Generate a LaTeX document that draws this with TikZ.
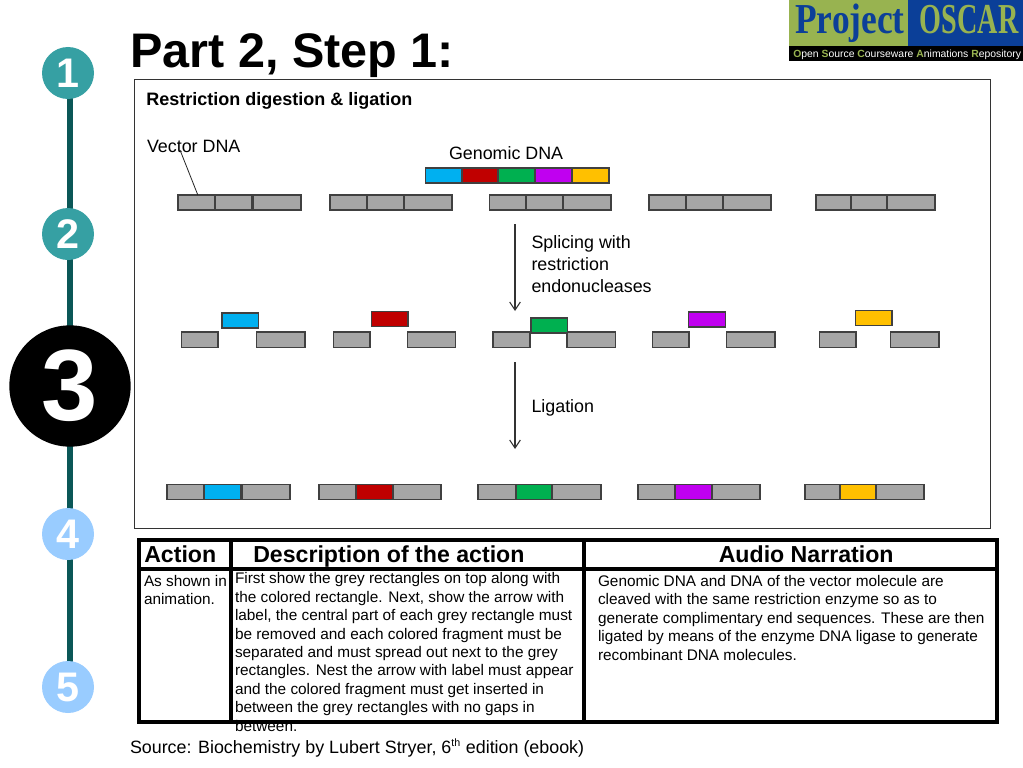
\documentclass[tikz,border=0pt]{standalone}
\usepackage{fontspec}
\setmainfont{Liberation Sans}
\newfontfamily\serifb{Liberation Serif}
\definecolor{teal1}{HTML}{36A0A3}
\definecolor{sky1}{HTML}{99CCFF}
\definecolor{stem}{HTML}{0B5757}
\definecolor{gseg}{HTML}{A6A6A6}
\definecolor{c1}{HTML}{00B0F0}
\definecolor{c2}{HTML}{C00000}
\definecolor{c3}{HTML}{00B050}
\definecolor{c4}{HTML}{C000F0}
\definecolor{c5}{HTML}{FFC000}
\definecolor{lgreen}{HTML}{98B350}
\definecolor{lblue}{HTML}{0B3F98}
\newcommand\fs[2]{\fontsize{#1}{#2}\selectfont}
\newcommand\blk[6]{\pgfmathsetmacro\wv{(#4-#2)*.75}\pgfmathsetmacro\hv{(#5-#3)*.75}%
  \node[seg,fill=#6,minimum width=\wv pt,minimum height=\hv pt] (#1) at (#2,#3) {};}
\tikzset{
  x=.75pt,y=-.75pt,
  seg/.style={draw=black!75,line width=.9pt,anchor=north west,inner sep=0pt,outer sep=0pt},
  txt/.style={anchor=north west,inner sep=0pt,outer sep=0pt,align=left,font=\fs{13.4}{16.4}},
  small/.style={anchor=north west,inner sep=0pt,outer sep=0pt,align=left,font=\fs{11.52}{13.85}},
  hd/.style={anchor=base west,inner sep=0pt,font=\fs{17.35}{20}\bfseries},
  num/.style={circle,inner sep=0pt,outer sep=0pt,text=white,font=\fs{31}{31}\bfseries,minimum size=39pt,text depth=0pt},
  arr/.style={-{Straight Barb[length=6pt,width=8pt]},line width=.8pt,black!80},
  grid/.style={line width=3pt,black},
}
\usetikzlibrary{arrows.meta}
\begin{document}
\begin{tikzpicture}
\useasboundingbox (0,0) rectangle (1023,767);
\fill[white] (0,0) rectangle (1023,767);
% timeline
\coordinate (st) at (70,73); \coordinate (en) at (70,687);
\draw[stem,line width=5.2pt] (st) -- (en);
\node[num,fill=teal1] (n1) at (68,73) {1};
\node[num,fill=teal1] (n2) at (68,234) {2};
\node[circle,fill=black,inner sep=0pt,minimum size=91pt,text=white,font=\fs{76}{76}\bfseries] (n3) at (70,386) {3};
\node[num,fill=sky1] (n4) at (68,534) {4};
\node[num,fill=sky1] (n5) at (68,687) {5};
% title
\node[anchor=base west,inner sep=0pt,font=\fs{36.4}{40}\bfseries] (title) at (130,68) {Part 2, Step 1:};
% logo
\fill[lgreen] (789,0) rectangle (908,46);
\fill[lblue] (908,0) rectangle (1023,46);
\fill[black] (789,46) rectangle (1023,61);
\node[anchor=base west,inner sep=0pt,text=lblue,font=\serifb\fs{32}{32}\bfseries] (lg1) at (795,33.5) {\scalebox{.83}[1]{Project}};
\node[anchor=base west,inner sep=0pt,text=lgreen,font=\serifb\fs{32}{32}\bfseries] (lg2) at (919.5,33.5) {\scalebox{.66}[1]{OSCAR}};
\node[anchor=base west,inner sep=0pt,text=white,font=\fs{7.8}{8.5}] (lg3) at (793,57.5) {\textcolor{lgreen}{\textbf{O}}pen \textcolor{lgreen}{\textbf{S}}ource \textcolor{lgreen}{\textbf{C}}ourseware \textcolor{lgreen}{\textbf{A}}nimations \textcolor{lgreen}{\textbf{R}}epository};
% frame
\draw[line width=.7pt,black!80] (134.5,79) rectangle (990,528.5);
\node[anchor=base west,inner sep=0pt,font=\fs{13.5}{15}\bfseries] (head) at (146,105.5) {Restriction digestion \& ligation};
\node[txt,anchor=base west] (vec) at (147,152) {Vector DNA};
\node[txt,anchor=base west] (gen) at (449,159) {Genomic DNA};
% row 1
\blk{a1}{178}{195}{215}{210}{gseg}\blk{a2}{215}{195}{252}{210}{gseg}\blk{a3}{253}{195}{301}{210}{gseg}
\blk{b1}{330}{195}{367}{210}{gseg}\blk{b2}{367}{195}{404}{210}{gseg}\blk{b3}{404}{195}{452}{210}{gseg}
\blk{d1}{489.5}{195}{526}{210}{gseg}\blk{d2}{526}{195}{563}{210}{gseg}\blk{d3}{563}{195}{611}{210}{gseg}
\blk{e1}{649}{195}{686}{210}{gseg}\blk{e2}{686}{195}{723}{210}{gseg}\blk{e3}{723}{195}{771}{210}{gseg}
\blk{f1}{816}{195}{851}{210}{gseg}\blk{f2}{851}{195}{887}{210}{gseg}\blk{f3}{887}{195}{935}{210}{gseg}
% genomic
\blk{g1}{425.5}{168}{462}{183}{c1}\blk{g2}{462}{168}{498}{183}{c2}\blk{g3}{498}{168}{535}{183}{c3}\blk{g4}{535}{168}{572}{183}{c4}\blk{g5}{572}{168}{609}{183}{c5}
% vector leader
\coordinate (vt) at (180,150);
\draw[line width=.6pt,black!85] (vt) -- ([xshift=1pt]a1.north);
% arrow 1
\coordinate (p1) at (515,224); \coordinate (p2) at (515,311);
\draw[arr] (p1) -- (p2);
\node[txt] (spl) at (531.5,236) {Splicing with\\restriction\\endonucleases};
% row 2
\blk{h1}{181.5}{332}{218}{347.5}{gseg}\blk{h3}{256.5}{332}{305}{347.5}{gseg}\blk{h2}{222}{313}{258.5}{328}{c1}
\blk{i1}{333.5}{332}{370}{347.5}{gseg}\blk{i3}{407.5}{332}{455.5}{347.5}{gseg}\blk{i2}{371.5}{311.5}{408}{326.5}{c2}
\blk{j1}{493}{332}{530}{347.5}{gseg}\blk{j3}{567}{332}{615.5}{347.5}{gseg}\blk{j2}{531}{318}{567.5}{333}{c3}
\blk{k1}{652.5}{332}{689}{347.5}{gseg}\blk{k3}{726.5}{332}{775}{347.5}{gseg}\blk{k2}{688.5}{312}{725.5}{327}{c4}
\blk{l1}{819.5}{332}{856}{347.5}{gseg}\blk{l3}{890.5}{332}{939}{347.5}{gseg}\blk{l2}{855.5}{310.5}{892}{325.5}{c5}
% arrow 2
\coordinate (p3) at (515,362); \coordinate (p4) at (515,449);
\draw[arr] (p3) -- (p4);
\node[txt] (lig) at (531.5,400) {Ligation};
% row 3
\blk{m1}{167}{484.5}{204}{499.5}{gseg}\blk{m2}{204}{484.5}{241}{499.5}{c1}\blk{m3}{242}{484.5}{290}{499.5}{gseg}
\blk{o1}{319}{484.5}{356}{499.5}{gseg}\blk{o2}{356}{484.5}{393}{499.5}{c2}\blk{o3}{393}{484.5}{441}{499.5}{gseg}
\blk{q1}{478}{484.5}{516}{499.5}{gseg}\blk{q2}{516}{484.5}{552}{499.5}{c3}\blk{q3}{552}{484.5}{601}{499.5}{gseg}
\blk{r1}{638}{484.5}{675}{499.5}{gseg}\blk{r2}{675}{484.5}{712}{499.5}{c4}\blk{r3}{712}{484.5}{760}{499.5}{gseg}
\blk{s1}{805}{484.5}{840}{499.5}{gseg}\blk{s2}{840}{484.5}{876}{499.5}{c5}\blk{s3}{876}{484.5}{924}{499.5}{gseg}
% table text
\node[small] (t1) at (144,575) {As shown in\\animation.};
\node[small] (t2) at (235,572.5) {First show the grey rectangles on top along with\\the colored rectangle. Next, show the arrow with\\label, the central part of each grey rectangle must\\be removed and each colored fragment must be\\separated and must spread out next to the grey\\rectangles. Nest the arrow with label must appear\\and the colored fragment must get inserted in\\between the grey rectangles with no gaps in\\between.};
\node[small] (t3) at (598,575) {Genomic DNA and DNA of the vector molecule are\\cleaved with the same restriction enzyme so as to\\generate complimentary end sequences. These are then\\ligated by means of the enzyme DNA ligase  to generate\\recombinant DNA molecules.};
% table grid
\draw[grid] (139,540) rectangle (997,722);
\draw[grid] (139,568.5) -- (997,568.5);
\draw[grid] (231,540) -- (231,722);
\draw[grid] (584,540) -- (584,722);
\node[hd] (h-a) at (144,562) {Action};
\node[hd] (h-b) at (253,562) {Description of the action};
\node[hd] (h-c) at (718.5,562) {Audio Narration};
% source
\node[txt,anchor=base west] (src) at (130,753) {Source: Biochemistry by Lubert Stryer, 6\textsuperscript{\fs{8}{8}th} edition (ebook)};
\end{tikzpicture}
\end{document}
